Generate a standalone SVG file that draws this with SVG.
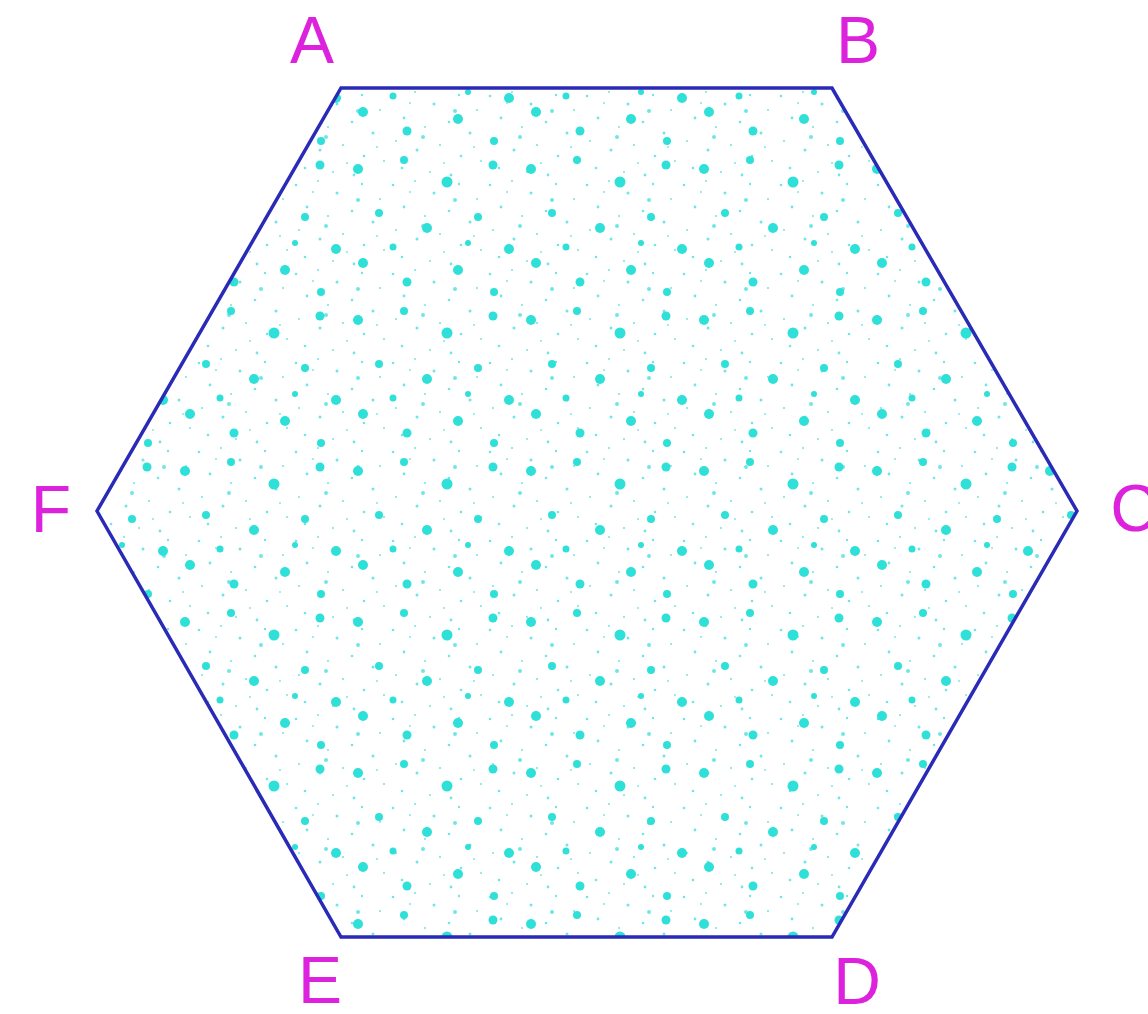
<svg xmlns="http://www.w3.org/2000/svg" width="1148" height="1014" viewBox="0 0 1148 1014">
<style>
.lbl{font-family:"Liberation Sans",Arial,sans-serif;font-size:66px;fill:#dd22dd;text-anchor:middle}
.edge{fill:none;stroke:#2a2ab8;stroke-width:3.5;stroke-linejoin:miter}
.big{fill:#2fe0d8}
.sm{fill:#6fe6e6}
</style>
<defs>
<pattern id="blobs" patternUnits="userSpaceOnUse" width="173" height="151">
<circle class="big" cx="12" cy="18" r="5"/>
<circle class="big" cx="58" cy="9" r="4"/>
<circle class="big" cx="101" cy="31" r="5.5"/>
<circle class="big" cx="147" cy="14" r="4.5"/>
<circle class="big" cx="33" cy="62" r="4"/>
<circle class="big" cx="81" cy="77" r="5"/>
<circle class="big" cx="132" cy="66" r="4"/>
<circle class="big" cx="163" cy="98" r="5"/>
<circle class="big" cx="17" cy="112" r="5"/>
<circle class="big" cx="61" cy="131" r="4.5"/>
<circle class="big" cx="112" cy="119" r="5"/>
<circle class="big" cx="148" cy="141" r="4"/>
<circle class="big" cx="47" cy="96" r="3.5"/>
<circle class="big" cx="122" cy="92" r="3"/>
</pattern>
<pattern id="dots" patternUnits="userSpaceOnUse" width="97" height="89">
<circle class="sm" cx="5" cy="7" r="1.3"/>
<circle class="sm" cx="27" cy="3" r="1"/>
<circle class="sm" cx="46" cy="15" r="1.5"/>
<circle class="sm" cx="71" cy="6" r="1.2"/>
<circle class="sm" cx="89" cy="21" r="1"/>
<circle class="sm" cx="16" cy="29" r="1.4"/>
<circle class="sm" cx="37" cy="38" r="1"/>
<circle class="sm" cx="61" cy="33" r="1.3"/>
<circle class="sm" cx="82" cy="44" r="1.5"/>
<circle class="sm" cx="8" cy="52" r="1"/>
<circle class="sm" cx="29" cy="61" r="1.5"/>
<circle class="sm" cx="52" cy="56" r="1.1"/>
<circle class="sm" cx="73" cy="67" r="1.3"/>
<circle class="sm" cx="93" cy="72" r="1"/>
<circle class="sm" cx="14" cy="79" r="1.3"/>
<circle class="sm" cx="42" cy="83" r="1"/>
<circle class="sm" cx="63" cy="86" r="1.4"/>
<circle class="sm" cx="22" cy="14" r="0.9"/>
<circle class="sm" cx="56" cy="74" r="0.9"/>
<circle class="sm" cx="86" cy="58" r="0.9"/>
<circle class="sm" cx="35" cy="48" r="2"/>
<circle class="sm" cx="67" cy="22" r="2"/>
</pattern>
</defs>
<g id="hexagon">
<polygon points="341,88 832,88 1077,511 832,937 341,937 97,511" fill="#ffffff"/>
<polygon points="341,88 832,88 1077,511 832,937 341,937 97,511" fill="url(#dots)"/>
<polygon points="341,88 832,88 1077,511 832,937 341,937 97,511" fill="url(#blobs)"/>
</g>
<g id="connectors">
<polygon class="edge" points="341,88 832,88 1077,511 832,937 341,937 97,511"/>
</g>
<g id="labels">
<text id="A" class="lbl" x="312" y="63">A</text>
<text id="B" class="lbl" x="858" y="63">B</text>
<text id="C" class="lbl" x="1134" y="531">C</text>
<text id="F" class="lbl" x="51" y="532">F</text>
<text id="E" class="lbl" x="320" y="1003">E</text>
<text id="D" class="lbl" x="857" y="1004">D</text>
</g>
</svg>
